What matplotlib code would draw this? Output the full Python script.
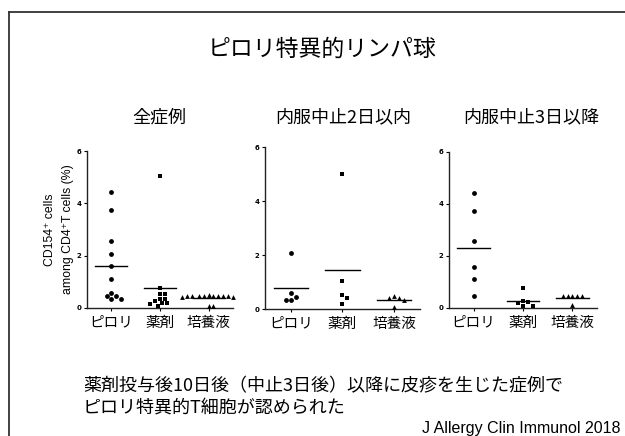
import matplotlib
matplotlib.use("Agg")
import matplotlib.pyplot as plt
from matplotlib.lines import Line2D
import numpy as np

plt.rcParams["font.family"] = ["Noto Sans CJK JP", "DejaVu Sans"]

categories = ["ピロリ", "薬剤", "培養液"]
markers = ["o", "s", "^"]
panel_titles = ["全症例", "内服中止2日以内", "内服中止3日以降"]

# CD154+ cells among CD4+ T cells (%)
all_pylori = [4.42, 3.75, 2.57, 2.05, 1.59, 1.12, 0.59, 0.46, 0.46, 0.34, 0.34]
all_drug = [5.03, 0.76, 0.55, 0.55, 0.36, 0.36, 0.28, 0.20, 0.18, 0.14, 0.08]
all_medium = [0.47, 0.45, 0.44, 0.46, 0.43, 0.45, 0.42, 0.46, 0.44, 0.48, 0.45, 0.07, 0.06]

within2_pylori = [2.06, 0.60, 0.46, 0.35, 0.35]
within2_drug = [5.01, 1.05, 0.52, 0.39, 0.20]
within2_medium = [0.49, 0.41, 0.41, 0.35, 0.09]

after3_pylori = [4.41, 3.73, 2.58, 1.58, 1.11, 0.47]
after3_drug = [0.76, 0.28, 0.24, 0.19, 0.09, 0.09]
after3_medium = [0.45, 0.45, 0.45, 0.45, 0.45, 0.10]

panels = [
    [all_pylori, all_drug, all_medium],
    [within2_pylori, within2_drug, within2_medium],
    [after3_pylori, after3_drug, after3_medium],
]

W, H = 625, 436
fig = plt.figure(figsize=(W / 100, H / 100), dpi=100)

# slide frame
fig.add_artist(Line2D([9 / W, 9 / W], [0, 1 - 12 / H], color="#333333", lw=1.3))
fig.add_artist(Line2D([9 / W, 1], [1 - 12 / H, 1 - 12 / H], color="#333333", lw=1.3))

fig.text(322 / W, 1 - 49 / H, "ピロリ特異的リンパ球", ha="center", va="center", fontsize=16.5)

# axes boxes in pixels: left, right, y of 0, y of 6
boxes = [(87, 233, 308, 151), (265, 420, 309, 147), (449, 597, 308, 152)]
title_x = [159, 343, 531]


def swarm_offsets(ax, x0, vals, size_px=4.8, step_px=2.4):
    """Greedy beeswarm: push points sideways until they no longer overlap."""
    order = np.argsort(vals)[::-1]
    placed = []
    offs = np.zeros(len(vals))
    x_px0, _ = ax.transData.transform((x0, 0))
    for i in order:
        _, y_px = ax.transData.transform((x0, vals[i]))
        k = 0
        while True:
            sign = 1 if k % 2 == 1 else -1
            dx = 0 if k == 0 else sign * ((k + 1) // 2) * step_px
            if all((dx - px) ** 2 + (y_px - py) ** 2 >= size_px ** 2 for px, py in placed):
                break
            k += 1
        placed.append((dx, y_px))
        x_data, _ = ax.transData.inverted().transform((x_px0 + dx, y_px))
        offs[i] = x_data - x0
    return offs


for p, (groups, box) in enumerate(zip(panels, boxes)):
    l, r, yb, yt = box
    ax = fig.add_axes([l / W, 1 - yb / H, (r - l) / W, (yb - yt) / H])
    ax.set_xlim(-0.5, 2.5)
    ax.set_ylim(0, 6)
    for s in ["top", "right"]:
        ax.spines[s].set_visible(False)
    for s in ["left", "bottom"]:
        ax.spines[s].set_linewidth(1.0)
        ax.spines[s].set_color("#222222")
    ax.set_yticks([0, 2, 4, 6])
    ax.set_yticklabels(["0", "2", "4", "6"], fontsize=5, fontweight="bold",
                       family=["DejaVu Sans"])
    ax.tick_params(axis="y", length=2.5, width=0.8, pad=1.5)
    ax.set_xticks(range(3))
    ax.set_xticklabels(categories, fontsize=10.5)
    ax.tick_params(axis="x", length=2.5, width=0.8, pad=3)

    for c, vals in enumerate(groups):
        offs = swarm_offsets(ax, c, vals)
        ax.scatter(c + offs, vals, marker=markers[c], s=12, color="black",
                   linewidths=0, clip_on=False, zorder=3)
        m = np.mean(vals)
        ax.plot([c - 0.33, c + 0.33], [m, m], color="black", lw=1.0, zorder=2)

    if p == 0:
        ax.set_ylabel("CD154⁺ cells\namong CD4⁺T cells (%)", fontsize=8.8,
                      family=["Liberation Sans", "DejaVu Sans"], labelpad=2,
                      linespacing=1.6)

    fig.text(title_x[p] / W, 1 - 117.5 / H, panel_titles[p], ha="center", va="center",
             fontsize=13)

fig.text(83 / W, 1 - 386 / H, "薬剤投与後10日後（中止3日後）以降に皮疹を生じた症例で",
         ha="left", va="center", fontsize=13)
fig.text(83 / W, 1 - 408 / H, "ピロリ特異的T細胞が認められた",
         ha="left", va="center", fontsize=13)
fig.text(621 / W, 1 - 428 / H, "J Allergy Clin Immunol 2018", ha="right", va="center",
         fontsize=11.5, family=["Liberation Sans", "DejaVu Sans"])

fig.savefig("out.png", dpi=100)
